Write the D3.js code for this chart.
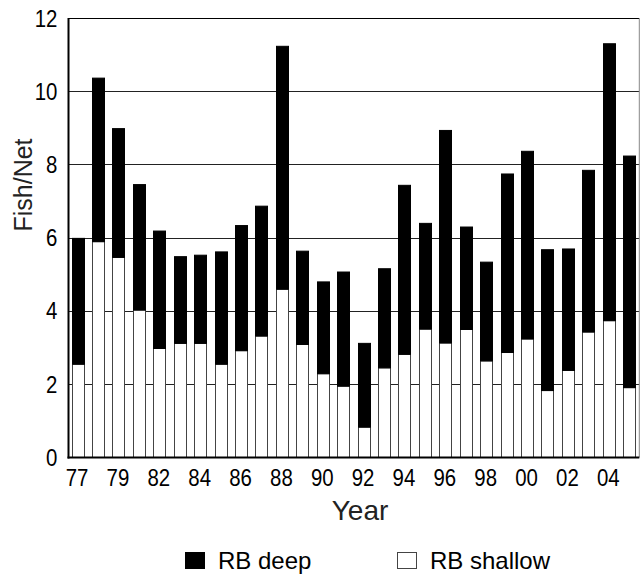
<!DOCTYPE html>
<html><head><meta charset="utf-8">
<script src="https://cdn.jsdelivr.net/npm/d3@7"></script>
<style>body{margin:0;background:#fff}</style>
</head><body>
<svg id="chart" width="641" height="574"></svg>
<script>
const years = ["77","78","79","81","82","83","84","85","86","87","88","89","90","91","92","93","94","95","96","97","98","99","00","01","02","03","04","05"];
const tickLabels = ["77","79","82","84","86","88","90","92","94","96","98","00","02","04"];
const shallow = [2.55,5.90,5.47,4.03,2.98,3.12,3.12,2.55,2.92,3.32,4.60,3.09,2.29,1.95,0.83,2.45,2.82,3.51,3.13,3.50,2.64,2.87,3.24,1.83,2.38,3.43,3.74,1.91];
const deep = [3.44,4.47,3.52,3.43,3.21,2.37,2.41,3.07,3.42,3.55,6.64,2.55,2.51,3.12,2.29,2.71,4.62,2.89,5.81,2.80,2.70,4.88,5.13,3.85,3.32,4.42,7.57,6.33];
const yTicks = [0,2,4,6,8,10,12];
const seriesNames = ["RB deep","RB shallow"];

const svg = d3.select("#chart");
const L = 68.5, R = 639.3, T = 18.5, B = 457.5;
const font = "Arial, 'Liberation Sans', sans-serif";

const x = d3.scaleBand().domain(years).range([L, R]).paddingInner(0.36).paddingOuter(0.15);
const y = d3.scaleLinear().domain([0, 12]).range([B, T]);
const crisp = v => Math.round(v - 0.5) + 0.5;

// gridlines
svg.append("g").selectAll("line").data(yTicks.filter(d => d > 0 && d < 12)).join("line")
  .attr("x1", L).attr("x2", R).attr("y1", d => crisp(y(d))).attr("y2", d => crisp(y(d)))
  .attr("stroke", "#222").attr("stroke-width", 1);
// frame top & right
svg.append("line").attr("x1", L).attr("x2", R).attr("y1", crisp(y(12))).attr("y2", crisp(y(12))).attr("stroke", "#000");
svg.append("line").attr("x1", R).attr("x2", R).attr("y1", crisp(y(12))).attr("y2", B).attr("stroke", "#888");

const table = years.map((yr, i) => ({year: yr, shallow: shallow[i], deep: deep[i]}));
const stack = d3.stack().keys(["shallow", "deep"])(table);
const fills = {shallow: "#fff", deep: "#000"};
const strokes = {shallow: "#444", deep: "#000"};

svg.append("g").selectAll("g").data(stack).join("g")
  .attr("fill", s => fills[s.key]).attr("stroke", s => strokes[s.key]).attr("stroke-width", 1)
  .selectAll("rect").data(s => s).join("rect")
  .attr("x", d => Math.round(x(d.data.year)) + 0.5)
  .attr("width", Math.round(x.bandwidth()) - 1)
  .attr("y", d => y(d[1]))
  .attr("height", d => y(d[0]) - y(d[1]));

// axes
const yAxis = svg.append("g").attr("transform", `translate(${L},0)`)
  .call(d3.axisLeft(y).tickValues(yTicks).tickSize(0).tickPadding(13).tickFormat(d3.format("d")));
yAxis.select(".domain").remove();
yAxis.selectAll("text").attr("font-family", font).attr("font-size", 24).attr("fill", "#000")
  .attr("transform", "scale(0.85,1)");

const xAxis = svg.append("g").attr("transform", `translate(0,${B})`)
  .call(d3.axisBottom(x).tickValues(tickLabels).tickSize(0).tickPadding(11));
xAxis.select(".domain").remove();
xAxis.selectAll("text").attr("font-family", font).attr("font-size", 24).attr("fill", "#000")
  .attr("transform", "translate(-1,0) scale(0.85,1)");

// axis lines (thick)
svg.append("line").attr("x1", L).attr("x2", L).attr("y1", T - 0.5).attr("y2", B + 1).attr("stroke", "#000").attr("stroke-width", 2);
svg.append("line").attr("x1", L - 1).attr("x2", R).attr("y1", B).attr("y2", B).attr("stroke", "#000").attr("stroke-width", 2);

// axis titles
svg.append("text").attr("transform", "translate(32,185) rotate(-90)")
  .attr("text-anchor", "middle").attr("font-family", font).attr("font-size", 25).attr("fill", "#222").text("Fish/Net");
svg.append("text").attr("x", 360).attr("y", 520).attr("text-anchor", "middle")
  .attr("font-family", font).attr("font-size", 28).attr("fill", "#222").text("Year");

// legend
const legendX = [185, 397];
const legend = svg.append("g").selectAll("g").data(seriesNames).join("g")
  .attr("transform", (d, i) => `translate(${legendX[i]},552)`);
legend.append("rect").attr("x", 0.5).attr("y", 0.5).attr("width", 19).attr("height", 16)
  .attr("fill", (d, i) => i === 0 ? "#000" : "#fff").attr("stroke", (d, i) => i === 0 ? "#000" : "#444");
legend.append("text").attr("x", 33).attr("y", 16.5).attr("font-family", font).attr("font-size", 24)
  .attr("fill", "#000").text(d => d);
</script>
</body></html>
